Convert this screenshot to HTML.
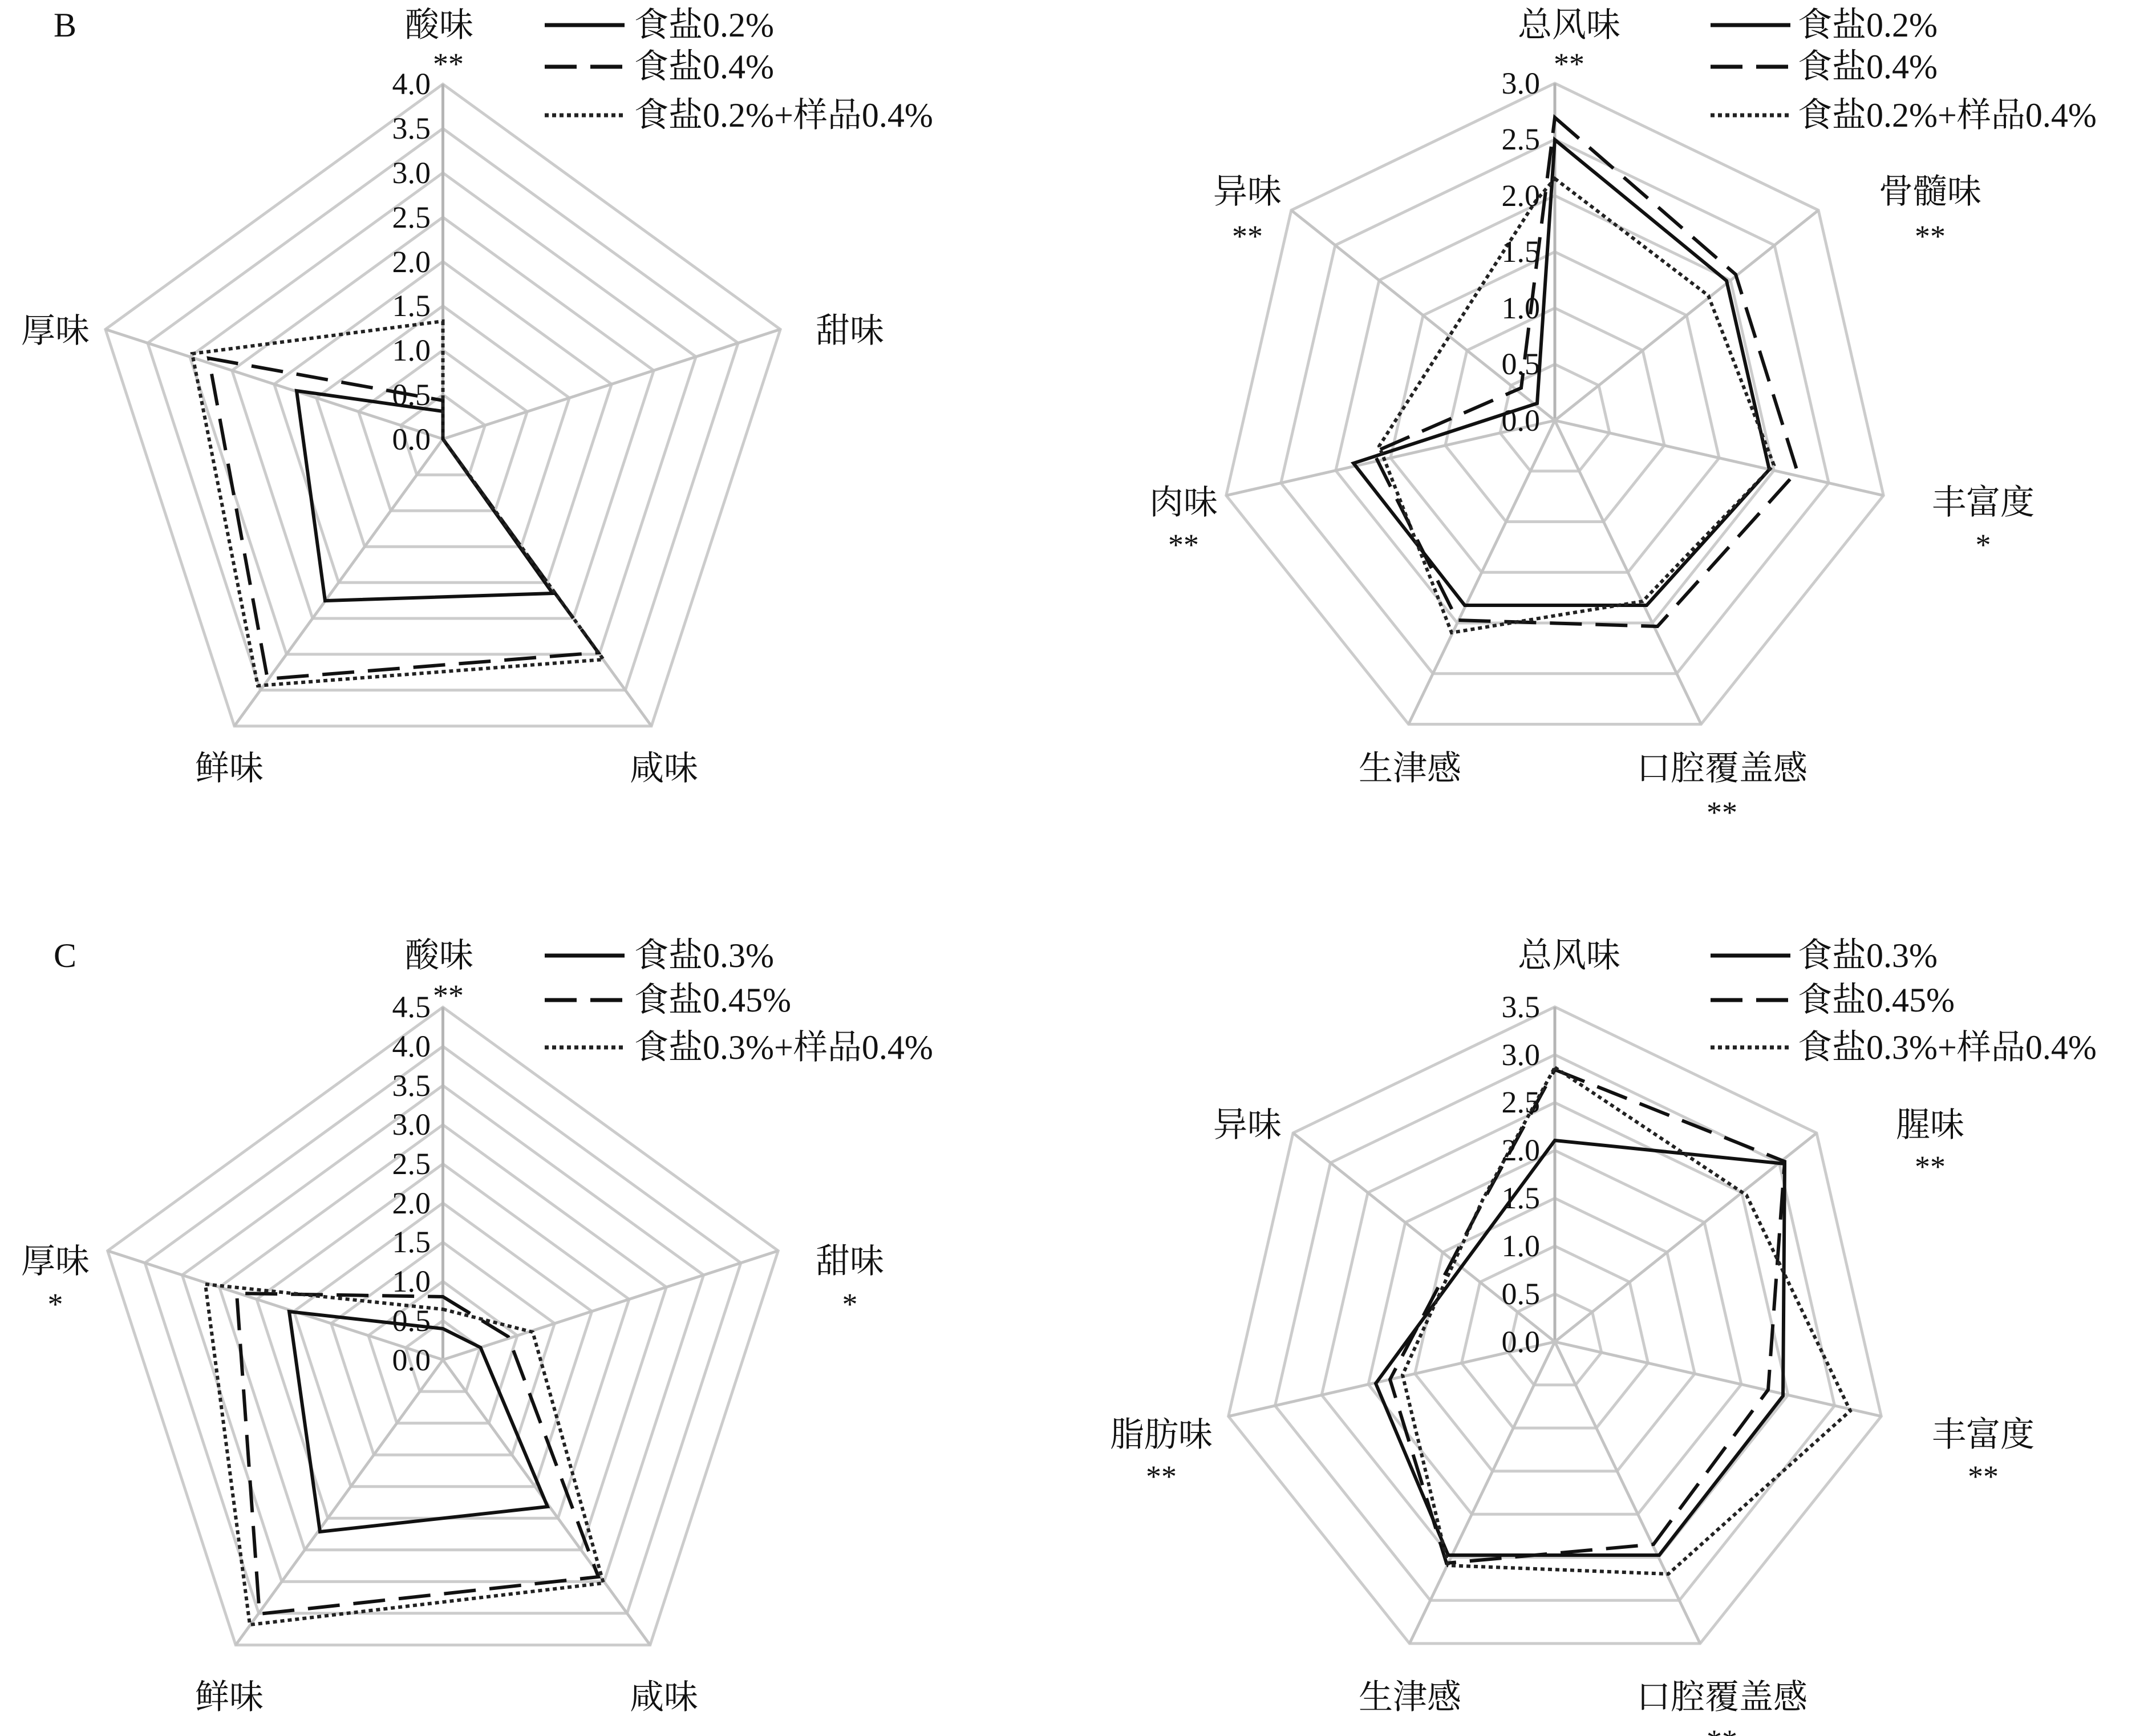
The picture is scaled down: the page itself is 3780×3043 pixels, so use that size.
<!DOCTYPE html>
<html><head><meta charset="utf-8"><style>
html,body{margin:0;padding:0;background:#fff;}
svg{display:block;}
text{font-family:"Liberation Serif","Noto Serif CJK SC",serif;fill:#111;}
.lb{font-size:60px;}
.tk{font-size:54px;}
.st{font-size:54px;}
.s{fill:none;stroke:#111;stroke-width:6;stroke-linejoin:miter;}
.d{fill:none;stroke:#111;stroke-width:6;stroke-dasharray:56,24;}
.o{fill:none;stroke:#222;stroke-width:6;stroke-dasharray:7,6;}
</style></head><body>
<svg id="sv" width="3780" height="3043" viewBox="0 0 3780 3043" xmlns="http://www.w3.org/2000/svg">
<g id="grid"></g>

<!-- B left data -->
<polygon class="s" points="776.5,721 776.5,769.5 969,1040 570,1053 520,685"/>
<polygon class="d" points="776.5,702 776.5,769.5 1049,1144 469,1190 366,628"/>
<polygon class="o" points="776.5,563 776.5,769.5 1058,1156 452,1202 337,620"/>
<!-- C left data -->
<polygon class="s" points="776.5,2329 842.5,2362 960,2641 561,2685 507,2299"/>
<polygon class="d" points="776.5,2273 891,2343 1049,2764 455,2829 415,2267"/>
<polygon class="o" points="776.5,2295 934,2335 1058,2775 438,2848 360,2251"/>
<!-- B right data -->
<polygon class="s" points="2726,245 3027,492 3102,823 2887,1061 2568,1061 2373,812 2695,707"/>
<polygon class="d" points="2726,206 3043,481 3151,826 2906,1098 2555,1087 2408,793 2667,680"/>
<polygon class="o" points="2726,313 2995,518 3110,815 2880,1054 2545,1109 2418,782 2692,353"/>
<!-- C right data -->
<polygon class="s" points="2726,1999 3129,2040 3126,2447 2909,2726 2539,2726 2412,2425 2562,2221"/>
<polygon class="d" points="2726,1875 3129,2036 3100,2436 2899,2707 2536,2740 2437,2418 2606,2095"/>
<polygon class="o" points="2726,1871 3062,2095 3244,2473 2925,2759 2539,2744 2459,2410 2600,2102"/>

<!-- legends -->
<g>
<line x1="955" y1="44" x2="1095" y2="44" stroke="#111" stroke-width="7"/>
<line x1="955" y1="117" x2="1095" y2="117" stroke="#111" stroke-width="7" style="stroke-dasharray:56,24"/>
<line x1="955" y1="202" x2="1095" y2="202" stroke="#222" stroke-width="7" style="stroke-dasharray:7,6"/>
<text class="lb" x="1112" y="44" dominant-baseline="central">食盐0.2%</text>
<text class="lb" x="1112" y="117" dominant-baseline="central">食盐0.4%</text>
<text class="lb" x="1112" y="202" dominant-baseline="central">食盐0.2%+样品0.4%</text>

<line x1="955" y1="1675" x2="1095" y2="1675" stroke="#111" stroke-width="7"/>
<line x1="955" y1="1753" x2="1095" y2="1753" stroke="#111" stroke-width="7" style="stroke-dasharray:56,24"/>
<line x1="955" y1="1836" x2="1095" y2="1836" stroke="#222" stroke-width="7" style="stroke-dasharray:7,6"/>
<text class="lb" x="1112" y="1675" dominant-baseline="central">食盐0.3%</text>
<text class="lb" x="1112" y="1753" dominant-baseline="central">食盐0.45%</text>
<text class="lb" x="1112" y="1836" dominant-baseline="central">食盐0.3%+样品0.4%</text>

<line x1="2999" y1="44" x2="3139" y2="44" stroke="#111" stroke-width="7"/>
<line x1="2999" y1="117" x2="3139" y2="117" stroke="#111" stroke-width="7" style="stroke-dasharray:56,24"/>
<line x1="2999" y1="202" x2="3139" y2="202" stroke="#222" stroke-width="7" style="stroke-dasharray:7,6"/>
<text class="lb" x="3152" y="44" dominant-baseline="central">食盐0.2%</text>
<text class="lb" x="3152" y="117" dominant-baseline="central">食盐0.4%</text>
<text class="lb" x="3152" y="202" dominant-baseline="central">食盐0.2%+样品0.4%</text>

<line x1="2999" y1="1675" x2="3139" y2="1675" stroke="#111" stroke-width="7"/>
<line x1="2999" y1="1753" x2="3139" y2="1753" stroke="#111" stroke-width="7" style="stroke-dasharray:56,24"/>
<line x1="2999" y1="1836" x2="3139" y2="1836" stroke="#222" stroke-width="7" style="stroke-dasharray:7,6"/>
<text class="lb" x="3152" y="1675" dominant-baseline="central">食盐0.3%</text>
<text class="lb" x="3152" y="1753" dominant-baseline="central">食盐0.45%</text>
<text class="lb" x="3152" y="1836" dominant-baseline="central">食盐0.3%+样品0.4%</text>
</g>

<!-- axis labels -->
<g class="lb" text-anchor="middle" dominant-baseline="central">
<text x="114" y="44" text-anchor="middle" dominant-baseline="central">B</text>
<text x="770" y="44" text-anchor="middle" dominant-baseline="central">酸味</text>
<text x="786" y="112" class="st" text-anchor="middle" dominant-baseline="central">**</text>
<text x="1490" y="580" text-anchor="middle" dominant-baseline="central">甜味</text>
<text x="97" y="580" text-anchor="middle" dominant-baseline="central">厚味</text>
<text x="402" y="1347" text-anchor="middle" dominant-baseline="central">鲜味</text>
<text x="1164" y="1347" text-anchor="middle" dominant-baseline="central">咸味</text>

<text x="114" y="1675" text-anchor="middle" dominant-baseline="central">C</text>
<text x="770" y="1675" text-anchor="middle" dominant-baseline="central">酸味</text>
<text x="786" y="1745" class="st" text-anchor="middle" dominant-baseline="central">**</text>
<text x="97" y="2211" text-anchor="middle" dominant-baseline="central">厚味</text>
<text x="97" y="2286" class="st" text-anchor="middle" dominant-baseline="central">*</text>
<text x="1490" y="2211" text-anchor="middle" dominant-baseline="central">甜味</text>
<text x="1490" y="2286" class="st" text-anchor="middle" dominant-baseline="central">*</text>
<text x="402" y="2975" text-anchor="middle" dominant-baseline="central">鲜味</text>
<text x="1164" y="2975" text-anchor="middle" dominant-baseline="central">咸味</text>

<text x="2751" y="44" text-anchor="middle" dominant-baseline="central">总风味</text>
<text x="2751" y="112" class="st" text-anchor="middle" dominant-baseline="central">**</text>
<text x="3384" y="336" text-anchor="middle" dominant-baseline="central">骨髓味</text>
<text x="3384" y="414" class="st" text-anchor="middle" dominant-baseline="central">**</text>
<text x="3477" y="881" text-anchor="middle" dominant-baseline="central">丰富度</text>
<text x="3477" y="955" class="st" text-anchor="middle" dominant-baseline="central">*</text>
<text x="3019" y="1347" text-anchor="middle" dominant-baseline="central">口腔覆盖感</text>
<text x="3019" y="1424" class="st" text-anchor="middle" dominant-baseline="central">**</text>
<text x="2472" y="1347" text-anchor="middle" dominant-baseline="central">生津感</text>
<text x="2075" y="881" text-anchor="middle" dominant-baseline="central">肉味</text>
<text x="2075" y="955" class="st" text-anchor="middle" dominant-baseline="central">**</text>
<text x="2187" y="336" text-anchor="middle" dominant-baseline="central">异味</text>
<text x="2187" y="414" class="st" text-anchor="middle" dominant-baseline="central">**</text>

<text x="2751" y="1675" text-anchor="middle" dominant-baseline="central">总风味</text>
<text x="3384" y="1972" text-anchor="middle" dominant-baseline="central">腥味</text>
<text x="3384" y="2045" class="st" text-anchor="middle" dominant-baseline="central">**</text>
<text x="3477" y="2515" text-anchor="middle" dominant-baseline="central">丰富度</text>
<text x="3477" y="2588" class="st" text-anchor="middle" dominant-baseline="central">**</text>
<text x="3019" y="2975" text-anchor="middle" dominant-baseline="central">口腔覆盖感</text>
<text x="3019" y="3051" class="st" text-anchor="middle" dominant-baseline="central">**</text>
<text x="2472" y="2975" text-anchor="middle" dominant-baseline="central">生津感</text>
<text x="2036" y="2515" text-anchor="middle" dominant-baseline="central">脂肪味</text>
<text x="2036" y="2588" class="st" text-anchor="middle" dominant-baseline="central">**</text>
<text x="2187" y="1972" text-anchor="middle" dominant-baseline="central">异味</text>
</g>

<!-- tick labels -->
<g class="tk" text-anchor="end" dominant-baseline="central">
<text x="755" y="147">4.0</text><text x="755" y="225">3.5</text><text x="755" y="303">3.0</text><text x="755" y="381">2.5</text><text x="755" y="459">2.0</text><text x="755" y="536">1.5</text><text x="755" y="614">1.0</text><text x="755" y="692">0.5</text><text x="755" y="770">0.0</text>

<text x="755" y="1765">4.5</text><text x="755" y="1834">4.0</text><text x="755" y="1903">3.5</text><text x="755" y="1971">3.0</text><text x="755" y="2040">2.5</text><text x="755" y="2109">2.0</text><text x="755" y="2177">1.5</text><text x="755" y="2246">1.0</text><text x="755" y="2315">0.5</text><text x="755" y="2384">0.0</text>

<text x="2700" y="146">3.0</text><text x="2700" y="244">2.5</text><text x="2700" y="343">2.0</text><text x="2700" y="441">1.5</text><text x="2700" y="540">1.0</text><text x="2700" y="638">0.5</text><text x="2700" y="737">0.0</text>

<text x="2700" y="1765">3.5</text><text x="2700" y="1849">3.0</text><text x="2700" y="1932">2.5</text><text x="2700" y="2016">2.0</text><text x="2700" y="2100">1.5</text><text x="2700" y="2184">1.0</text><text x="2700" y="2268">0.5</text><text x="2700" y="2352">0.0</text>
</g>
</svg>
<script>
(function(){
var g=document.getElementById('grid'),NS='http://www.w3.org/2000/svg';
function chart(cx,cy,R,n,lv){
  var i,k,pts;
  for(k=1;k<=lv;k++){
    var r=R*k/lv;pts=[];
    for(i=0;i<n;i++){var a=-Math.PI/2+i*2*Math.PI/n;pts.push((cx+r*Math.cos(a)).toFixed(1)+','+(cy+r*Math.sin(a)).toFixed(1));}
    var p=document.createElementNS(NS,'polygon');p.setAttribute('points',pts.join(' '));
    p.setAttribute('fill','none');p.setAttribute('stroke','#cccccc');p.setAttribute('stroke-width','5');g.appendChild(p);
  }
  for(i=0;i<n;i++){var a=-Math.PI/2+i*2*Math.PI/n;var l=document.createElementNS(NS,'line');
    l.setAttribute('x1',cx);l.setAttribute('y1',cy);l.setAttribute('x2',cx+R*Math.cos(a));l.setAttribute('y2',cy+R*Math.sin(a));
    l.setAttribute('stroke',i==0?'#b5b5b5':'#c4c4c4');l.setAttribute('stroke-width','5');g.appendChild(l);}
}
chart(776.5,769.5,622,5,8);
chart(776.5,2383.5,618,5,9);
chart(2726,737,591,7,6);
chart(2726,2352,587,7,7);
})();
</script>
</body></html>
